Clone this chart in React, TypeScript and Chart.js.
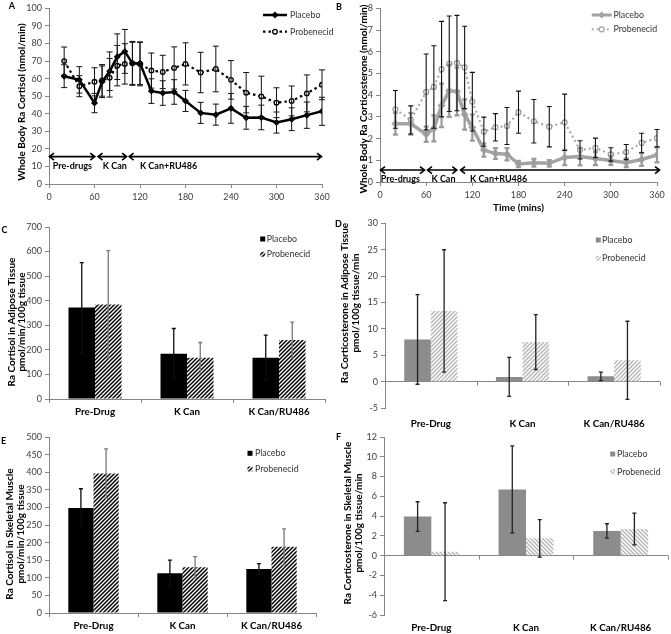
import React, { useEffect, useRef } from 'react';
import { Chart, registerables } from 'chart.js';

Chart.register(...registerables);

const FONT = 'Lato, "Liberation Sans", Arial, sans-serif';
const AXIS_COLOR = '#868686';
const TICK_COLOR = '#404040';
const GRAY_LINE = '#a3a3a3';
const GRAY_BAR = '#8c8c8c';

// ---------------- data ----------------
const timePoints = [20, 40, 60, 70, 80, 90, 100, 110, 120, 135, 150, 165, 180, 200, 220, 240, 260, 280, 300, 320, 340, 360];

const cortisolPlacebo = [61.4, 59.3, 46.1, 58.2, 64.2, 72.5, 75.5, 68.7, 68.7, 52.9, 51.8, 52.4, 47.3, 40.5, 39.5, 43.1, 37.7, 37.9, 35.0, 36.9, 39.2, 41.4];
const cortisolPlaceboSD = [6.5, 7.5, 5.5, 9, 11, 13, 12.5, 12, 12, 7, 7, 7, 6, 6, 6, 8.5, 6.5, 7, 6, 6.5, 7.5, 8];
const cortisolProbenecid = [70, 55.7, 58.2, 59, 60.5, 67.4, 68.4, 68.7, 68.4, 64.6, 63.8, 66.1, 68.4, 63.5, 65.5, 59.3, 52, 49.9, 46.3, 47.3, 51.6, 56.5];
const cortisolProbenecidSD = [8, 6, 8, 9, 11, 11.5, 11.5, 12.5, 12.5, 10, 9.5, 12, 12, 11.5, 13, 11, 11.5, 11.5, 8.5, 8.5, 10.5, 8.5];

const corticoPlacebo = [2.68, 2.68, 2.2, 2.47, 3.53, 4.2, 4.17, 3.11, 2.51, 1.47, 1.31, 1.28, 0.83, 0.89, 0.86, 1.13, 1.17, 1.08, 0.99, 0.89, 1.04, 1.25];
const corticoPlaceboSD = [0.5, 0.5, 0.35, 0.6, 1.0, 1.2, 1.1, 0.7, 0.6, 0.3, 0.25, 0.28, 0.15, 0.18, 0.15, 0.35, 0.4, 0.3, 0.2, 0.2, 0.3, 0.35];
const corticoProbenecid = [3.35, 2.86, 4.15, 4.38, 5.2, 5.45, 5.48, 5.28, 3.7, 2.32, 2.52, 2.58, 3.22, 2.8, 2.55, 2.75, 1.48, 1.57, 1.27, 1.38, 1.8, 2.02];
const corticoProbenecidSD = [0.87, 0.65, 1.75, 1.9, 2.2, 2.2, 2.2, 1.9, 1.35, 0.67, 0.63, 0.85, 0.97, 1.0, 0.93, 1.3, 0.42, 0.45, 0.31, 0.35, 0.45, 0.4];

const phaseLabels = ['Pre-drugs', 'K Can', 'K Can+RU486'];
const cortisolPhaseStart = [0, 64, 105];
const cortisolPhaseEnd = [61, 103, 360];
const cortisolPhaseLabelX = [5, 71, 120];
const corticoPhaseStart = [0, 61, 104];
const corticoPhaseEnd = [58.5, 100.5, 364];
const corticoPhaseLabelX = [1, 67, 117];

const barCategories = ['Pre-Drug', 'K Can', 'K Can/RU486'];

const adiposeCortisolPlacebo = [372, 184, 168];
const adiposeCortisolPlaceboSD = [183, 103, 92];
const adiposeCortisolProbenecid = [385, 168, 240];
const adiposeCortisolProbenecidSD = [219, 62, 73];

const adiposeCorticoPlacebo = [8.0, 0.9, 1.0];
const adiposeCorticoPlaceboSD = [8.5, 3.7, 0.8];
const adiposeCorticoProbenecid = [13.4, 7.5, 4.05];
const adiposeCorticoProbenecidSD = [11.6, 5.2, 7.4];

const muscleCortisolPlacebo = [298, 113, 125];
const muscleCortisolPlaceboSD = [55, 37, 15];
const muscleCortisolProbenecid = [396, 130, 188];
const muscleCortisolProbenecidSD = [70, 30, 51];

const muscleCorticoPlacebo = [3.95, 6.7, 2.5];
const muscleCorticoPlaceboSD = [1.5, 4.4, 0.73];
const muscleCorticoProbenecid = [0.4, 1.75, 2.7];
const muscleCorticoProbenecidSD = [4.95, 1.9, 1.6];

// ---------------- helpers ----------------
const TITLE_SIZE = 10;
const TICK_SIZE = 9;
const LEGEND_SIZE = 8.8;

function drawText(ctx: any, t: any) {
  ctx.save();
  ctx.translate(t.x, t.y);
  if (t.rot) ctx.rotate(t.rot);
  ctx.font = `${t.bold ? 'bold ' : ''}${t.size ?? 9}px ${FONT}`;
  ctx.fillStyle = t.color ?? '#000';
  ctx.textAlign = t.align ?? 'center';
  ctx.textBaseline = 'middle';
  ctx.fillText(t.text, 0, 0);
  ctx.restore();
}

function makeHatch(color: string, size: number, lw: number, dir: number) {
  const c = document.createElement('canvas');
  c.width = size;
  c.height = size;
  const g = c.getContext('2d')!;
  g.fillStyle = '#fff';
  g.fillRect(0, 0, size, size);
  g.strokeStyle = color;
  g.lineWidth = lw;
  g.beginPath();
  for (let k = -1; k <= 2; k++) {
    if (dir > 0) {
      g.moveTo(k * size + size, -size);
      g.lineTo(k * size - 2 * size, 2 * size);
    } else {
      g.moveTo(k * size - size, -size);
      g.lineTo(k * size + 2 * size, 2 * size);
    }
  }
  g.stroke();
  return g.createPattern(c, 'repeat');
}

const errorBarPlugin = {
  id: 'errbars',
  afterDatasetsDraw(chart: any) {
    const ctx = chart.ctx;
    chart.data.datasets.forEach((ds: any, i: number) => {
      const eb = ds.errorBars;
      if (!eb) return;
      const meta = chart.getDatasetMeta(i);
      const ys = chart.scales[meta.yAxisID];
      ctx.save();
      ctx.strokeStyle = eb.color;
      ctx.lineWidth = eb.width;
      meta.data.forEach((el: any, j: number) => {
        const raw = ds.data[j];
        const v = typeof raw === 'number' ? raw : raw.y;
        const e = eb.values[j];
        const x = el.x;
        const t = ys.getPixelForValue(v + e);
        const b = ys.getPixelForValue(v - e);
        ctx.beginPath();
        ctx.moveTo(x, t);
        ctx.lineTo(x, b);
        ctx.moveTo(x - eb.cap, t);
        ctx.lineTo(x + eb.cap, t);
        ctx.moveTo(x - eb.cap, b);
        ctx.lineTo(x + eb.cap, b);
        ctx.stroke();
      });
      ctx.restore();
    });
  },
};

function decor(fn: (chart: any, ctx: any) => void) {
  return {
    id: 'decor',
    afterDraw(chart: any) {
      const ctx = chart.ctx;
      ctx.save();
      fn(chart, ctx);
      ctx.restore();
    },
  };
}

function yAxis(min: number, max: number, step: number, width: number, zeroLine = false) {
  return {
    min,
    max,
    ticks: { stepSize: step, color: TICK_COLOR, font: { family: FONT, size: TICK_SIZE }, padding: 3 },
    grid: {
      display: true,
      drawOnChartArea: zeroLine,
      drawTicks: true,
      tickLength: 4,
      color: zeroLine ? (c: any) => (c.tick && c.tick.value === 0 ? AXIS_COLOR : 'rgba(0,0,0,0)') : AXIS_COLOR,
      tickColor: AXIS_COLOR,
    },
    border: { display: true, color: AXIS_COLOR },
    afterFit: (s: any) => {
      s.width = width;
    },
  };
}

function xLinear(height: number, pad: number) {
  return {
    type: 'linear',
    min: 0,
    max: 360,
    ticks: { stepSize: 60, color: TICK_COLOR, font: { family: FONT, size: TICK_SIZE }, padding: pad },
    grid: { display: true, drawOnChartArea: false, tickLength: 4, color: AXIS_COLOR },
    border: { display: true, color: AXIS_COLOR },
    afterFit: (s: any) => {
      s.height = height;
    },
  };
}

function xCategory(height: number, pad: number, showLine: boolean) {
  return {
    type: 'category',
    ticks: { color: '#000', font: { family: FONT, size: 9.8, weight: 'bold' }, padding: pad, maxRotation: 0, autoSkip: false },
    grid: { display: showLine, drawOnChartArea: false, tickLength: 4, color: AXIS_COLOR, offset: true },
    border: { display: showLine, color: AXIS_COLOR },
    afterFit: (s: any) => {
      s.height = height;
    },
  };
}

function drawPhases(chart: any, ctx: any, starts: number[], ends: number[], labelXs: number[], arrowY: number, labelY: number) {
  const xs = chart.scales.x;
  const ys = chart.scales.y;
  const y = ys.getPixelForValue(arrowY);
  ctx.strokeStyle = '#000';
  ctx.lineWidth = 1.6;
  for (let i = 0; i < starts.length; i++) {
    const x1 = xs.getPixelForValue(starts[i]);
    const x2 = xs.getPixelForValue(ends[i]);
    ctx.beginPath();
    ctx.moveTo(x1, y);
    ctx.lineTo(x2, y);
    ctx.moveTo(x1 + 5, y - 3.5);
    ctx.lineTo(x1 + 0.5, y);
    ctx.lineTo(x1 + 5, y + 3.5);
    ctx.moveTo(x2 - 5, y - 3.5);
    ctx.lineTo(x2 - 0.5, y);
    ctx.lineTo(x2 - 5, y + 3.5);
    ctx.stroke();
    drawText(ctx, { text: phaseLabels[i], x: xs.getPixelForValue(labelXs[i]), y: ys.getPixelForValue(labelY), bold: true, size: 9, align: 'left' });
  }
}

function drawMarker(ctx: any, kind: string, x: number, y: number, r: number, fill: string, stroke: string, lw: number) {
  ctx.beginPath();
  if (kind === 'diamond') {
    ctx.moveTo(x, y - r);
    ctx.lineTo(x + r, y);
    ctx.lineTo(x, y + r);
    ctx.lineTo(x - r, y);
    ctx.closePath();
  } else {
    ctx.arc(x, y, r, 0, Math.PI * 2);
  }
  ctx.fillStyle = fill;
  ctx.fill();
  if (lw > 0) {
    ctx.strokeStyle = stroke;
    ctx.lineWidth = lw;
    ctx.stroke();
  }
}

function lineLegend(ctx: any, x1: number, x2: number, y: number, color: string, width: number, dash: number[], kind: string, r: number, fill: string, mlw: number, label: string, tx: number) {
  ctx.save();
  ctx.strokeStyle = color;
  ctx.lineWidth = width;
  ctx.setLineDash(dash);
  ctx.beginPath();
  ctx.moveTo(x1, y);
  ctx.lineTo(x2, y);
  ctx.stroke();
  ctx.setLineDash([]);
  drawMarker(ctx, kind, (x1 + x2) / 2, y, r, fill, color, mlw);
  ctx.restore();
  drawText(ctx, { text: label, x: tx, y, size: LEGEND_SIZE, align: 'left', color: '#333' });
}

function boxLegend(ctx: any, cx: number, cy: number, fill: any, label: string, tx: number) {
  ctx.fillStyle = fill;
  ctx.fillRect(cx - 2.5, cy - 2.5, 5, 5);
  drawText(ctx, { text: label, x: tx, y: cy, size: LEGEND_SIZE, align: 'left', color: '#333' });
}

function yTitle(ctx: any, lines: string[], xs: number[], cy: number) {
  lines.forEach((l, i) => drawText(ctx, { text: l, x: xs[i], y: cy, rot: -Math.PI / 2, bold: true, size: TITLE_SIZE }));
}

function zeroTicks(chart: any, ctx: any) {
  const xs = chart.scales.x;
  const y0 = chart.scales.y.getPixelForValue(0);
  const n = barCategories.length;
  const w = (xs.right - xs.left) / n;
  ctx.strokeStyle = AXIS_COLOR;
  ctx.lineWidth = 1;
  ctx.beginPath();
  for (let k = 1; k <= n; k++) {
    const x = Math.round(xs.left + k * w) + 0.5;
    ctx.moveTo(x, y0);
    ctx.lineTo(x, y0 + 4);
  }
  ctx.stroke();
}

const pts = (ys: number[]) => timePoints.map((t, i) => ({ x: t, y: ys[i] }));

// ---------------- panel builders ----------------
function buildA(canvas: HTMLCanvasElement) {
  return new Chart(canvas, {
    type: 'line',
    data: {
      datasets: [
        {
          label: 'Placebo',
          data: pts(cortisolPlacebo),
          borderColor: '#000',
          borderWidth: 2.5,
          pointStyle: 'rectRot',
          pointRadius: 3.5,
          pointBackgroundColor: '#000',
          pointBorderColor: '#000',
          pointBorderWidth: 0,
          tension: 0,
          errorBars: { values: cortisolPlaceboSD, color: '#111', width: 1, cap: 3 },
        },
        {
          label: 'Probenecid',
          data: pts(cortisolProbenecid),
          borderColor: '#000',
          borderWidth: 2.2,
          borderDash: [2.5, 3],
          pointStyle: 'circle',
          pointRadius: 2.3,
          pointBackgroundColor: '#fff',
          pointBorderColor: '#000',
          pointBorderWidth: 1.3,
          tension: 0,
          errorBars: { values: cortisolProbenecidSD, color: '#111', width: 1, cap: 3 },
        },
      ] as any,
    },
    options: {
      animation: false,
      responsive: false,
      layout: { padding: { left: 0, top: 7, right: 13, bottom: 0 } },
      plugins: { legend: { display: false }, tooltip: { enabled: false } },
      scales: { x: xLinear(31, 4) as any, y: yAxis(0, 100, 10, 49) as any },
    },
    plugins: [
      errorBarPlugin,
      decor((chart, ctx) => {
        drawPhases(chart, ctx, cortisolPhaseStart, cortisolPhaseEnd, cortisolPhaseLabelX, 15.6, 10.2);
        drawText(ctx, { text: 'A', x: 12, y: 6, bold: true, size: 9 });
        yTitle(ctx, ['Whole Body Ra Cortisol (nmol/min)'], [21.7], 102);
        lineLegend(ctx, 263, 287, 15, '#000', 2.5, [], 'diamond', 3.5, '#000', 0, 'Placebo', 290);
        lineLegend(ctx, 263, 287, 31.7, '#000', 2.2, [2.5, 3], 'circle', 2.3, '#fff', 1.3, 'Probenecid', 290);
      }),
    ],
  } as any);
}

function buildB(canvas: HTMLCanvasElement) {
  return new Chart(canvas, {
    type: 'line',
    data: {
      datasets: [
        {
          label: 'Placebo',
          data: pts(corticoPlacebo),
          borderColor: GRAY_LINE,
          borderWidth: 3.5,
          pointStyle: 'rectRot',
          pointRadius: 4,
          pointBackgroundColor: GRAY_LINE,
          pointBorderColor: GRAY_LINE,
          pointBorderWidth: 0,
          tension: 0,
          errorBars: { values: corticoPlaceboSD, color: '#9a9a9a', width: 2.2, cap: 2.5 },
        },
        {
          label: 'Probenecid',
          data: pts(corticoProbenecid),
          borderColor: GRAY_LINE,
          borderWidth: 2,
          borderDash: [2, 3],
          pointStyle: 'circle',
          pointRadius: 2.5,
          pointBackgroundColor: '#fff',
          pointBorderColor: '#999',
          pointBorderWidth: 1.2,
          tension: 0,
          errorBars: { values: corticoProbenecidSD, color: '#111', width: 1.1, cap: 2.5 },
        },
      ] as any,
    },
    options: {
      animation: false,
      responsive: false,
      layout: { padding: { left: 0, top: 5, right: 14, bottom: 0 } },
      plugins: { legend: { display: false }, tooltip: { enabled: false } },
      scales: { x: xLinear(33, 3.5) as any, y: yAxis(0, 8, 1, 45) as any },
    },
    plugins: [
      errorBarPlugin,
      decor((chart, ctx) => {
        drawPhases(chart, ctx, corticoPhaseStart, corticoPhaseEnd, corticoPhaseLabelX, 0.55, 0.15);
        drawText(ctx, { text: 'B', x: 4, y: 7, bold: true, size: 9 });
        yTitle(ctx, ['Whole Body Ra Corticosterone (nmol/min)'], [28.3], 99);
        drawText(ctx, { text: 'Time (mins)', x: 183.5, y: 208, bold: true, size: 10 });
        lineLegend(ctx, 256.7, 276.7, 15, GRAY_LINE, 3, [], 'diamond', 3.5, GRAY_LINE, 0, 'Placebo', 278.5);
        lineLegend(ctx, 256.7, 276.7, 29.3, GRAY_LINE, 1.8, [2, 3], 'circle', 2.5, '#fff', 1.2, 'Probenecid', 278.5);
      }),
    ],
  } as any);
}

function barChart(canvas: HTMLCanvasElement, o: any) {
  return new Chart(canvas, {
    type: 'bar',
    data: {
      labels: barCategories,
      datasets: [
        {
          label: 'Placebo',
          data: o.placebo,
          backgroundColor: o.placeboFill,
          borderWidth: 0,
          barPercentage: 1,
          categoryPercentage: o.catPct,
          errorBars: { values: o.placeboSD, color: o.placeboErr, width: o.errWidth, cap: 2 },
        },
        {
          label: 'Probenecid',
          data: o.probenecid,
          backgroundColor: o.probFill,
          borderWidth: 0,
          barPercentage: 1,
          categoryPercentage: o.catPct,
          errorBars: { values: o.probenecidSD, color: o.probErr, width: o.errWidth, cap: 2 },
        },
      ] as any,
    },
    options: {
      animation: false,
      responsive: false,
      layout: { padding: { left: 0, top: o.padTop, right: o.padRight, bottom: 0 } },
      plugins: { legend: { display: false }, tooltip: { enabled: false } },
      scales: {
        x: xCategory(o.xH, o.xPad, !o.zero) as any,
        y: yAxis(o.yMin, o.yMax, o.yStep, o.yW, o.zero) as any,
      },
    },
    plugins: [
      errorBarPlugin,
      decor((chart, ctx) => {
        if (o.zero) zeroTicks(chart, ctx);
        drawText(ctx, { text: o.letter, x: o.letterX, y: o.letterY, bold: true, size: 9 });
        yTitle(ctx, o.title, o.titleX, o.titleY);
        boxLegend(ctx, o.legX, o.legY[0], o.placeboFill, 'Placebo', o.legTX);
        boxLegend(ctx, o.legX, o.legY[1], o.probFill, 'Probenecid', o.legTX);
      }),
    ],
  } as any);
}

function buildC(canvas: HTMLCanvasElement) {
  return barChart(canvas, {
    placebo: adiposeCortisolPlacebo,
    placeboSD: adiposeCortisolPlaceboSD,
    probenecid: adiposeCortisolProbenecid,
    probenecidSD: adiposeCortisolProbenecidSD,
    placeboFill: '#000',
    probFill: makeHatch('#000', 4, 1.5, 1),
    placeboErr: '#0d0d0d',
    probErr: '#7a7a7a',
    errWidth: 1.3,
    catPct: 0.576,
    padTop: 12,
    padRight: 10,
    xH: 21,
    xPad: 3,
    yMin: 0,
    yMax: 700,
    yStep: 100,
    yW: 49,
    zero: false,
    letter: 'C',
    letterX: 4.5,
    letterY: 15,
    title: ['Ra Cortisol in Adipose Tissue', 'pmol/min/100g tissue'],
    titleX: [11.7, 22],
    titleY: 107,
    legX: 262.7,
    legY: [24, 39.3],
    legTX: 266.7,
  });
}

function buildD(canvas: HTMLCanvasElement) {
  return barChart(canvas, {
    placebo: adiposeCorticoPlacebo,
    placeboSD: adiposeCorticoPlaceboSD,
    probenecid: adiposeCorticoProbenecid,
    probenecidSD: adiposeCorticoProbenecidSD,
    placeboFill: GRAY_BAR,
    probFill: makeHatch('#b5b5b5', 4, 1.4, 1),
    placeboErr: '#222',
    probErr: '#222',
    errWidth: 1.3,
    catPct: 0.58,
    padTop: 6,
    padRight: 11,
    xH: 26,
    xPad: 5.5,
    yMin: -5,
    yMax: 30,
    yStep: 5,
    yW: 50,
    zero: true,
    letter: 'D',
    letterX: 3.5,
    letterY: 9,
    title: ['Ra Corticosterone in Adipose Tissue', 'pmol/100g tissue/min'],
    titleX: [10, 21],
    titleY: 88,
    legX: 263.3,
    legY: [25, 43.3],
    legTX: 267,
  });
}

function buildE(canvas: HTMLCanvasElement) {
  return barChart(canvas, {
    placebo: muscleCortisolPlacebo,
    placeboSD: muscleCortisolPlaceboSD,
    probenecid: muscleCortisolProbenecid,
    probenecidSD: muscleCortisolProbenecidSD,
    placeboFill: '#000',
    probFill: makeHatch('#000', 4, 1.5, 1),
    placeboErr: '#0d0d0d',
    probErr: '#7a7a7a',
    errWidth: 1.3,
    catPct: 0.566,
    padTop: 17,
    padRight: 19,
    xH: 21,
    xPad: 3,
    yMin: 0,
    yMax: 500,
    yStep: 50,
    yW: 49,
    zero: false,
    letter: 'E',
    letterX: 3.5,
    letterY: 21,
    title: ['Ra Cortisol in Skeletal Muscle', 'pmol/min/100g tissue'],
    titleX: [10, 21],
    titleY: 114,
    legX: 250,
    legY: [33.3, 49],
    legTX: 255,
  });
}

function buildF(canvas: HTMLCanvasElement) {
  return barChart(canvas, {
    placebo: muscleCorticoPlacebo,
    placeboSD: muscleCorticoPlaceboSD,
    probenecid: muscleCorticoProbenecid,
    probenecidSD: muscleCorticoProbenecidSD,
    placeboFill: GRAY_BAR,
    probFill: makeHatch('#b5b5b5', 4, 1.4, -1),
    placeboErr: '#222',
    probErr: '#222',
    errWidth: 1.3,
    catPct: 0.58,
    padTop: 10,
    padRight: 3,
    xH: 19,
    xPad: 2.5,
    yMin: -6,
    yMax: 12,
    yStep: 2,
    yW: 49,
    zero: true,
    letter: 'F',
    letterX: 3.5,
    letterY: 10.5,
    title: ['Ra Corticosterone in Skeletal Muscle', 'pmol/100g tissue/min'],
    titleX: [12.7, 24],
    titleY: 96,
    legX: 277.7,
    legY: [27, 44.7],
    legTX: 282,
  });
}

function Panel({ left, top, width, height, build }: any) {
  const ref = useRef<HTMLCanvasElement>(null);
  useEffect(() => {
    const chart = build(ref.current!);
    return () => chart.destroy();
  }, [build]);
  return (
    <div style={{ position: 'absolute', left, top, width, height }}>
      <canvas ref={ref} width={width} height={height} style={{ width, height, display: 'block' }} />
    </div>
  );
}

export default function App() {
  return (
    <div style={{ position: 'absolute', left: 0, top: 0, width: 671, height: 634, background: '#fff', overflow: 'hidden' }}>
      <Panel left={0} top={0} width={335} height={215} build={buildA} />
      <Panel left={335} top={0} width={336} height={215} build={buildB} />
      <Panel left={0} top={215} width={335} height={205} build={buildC} />
      <Panel left={335} top={427} width={336} height={207} build={buildF} />
      <Panel left={335} top={215} width={336} height={219} build={buildD} />
      <Panel left={0} top={420} width={335} height={214} build={buildE} />
    </div>
  );
}
